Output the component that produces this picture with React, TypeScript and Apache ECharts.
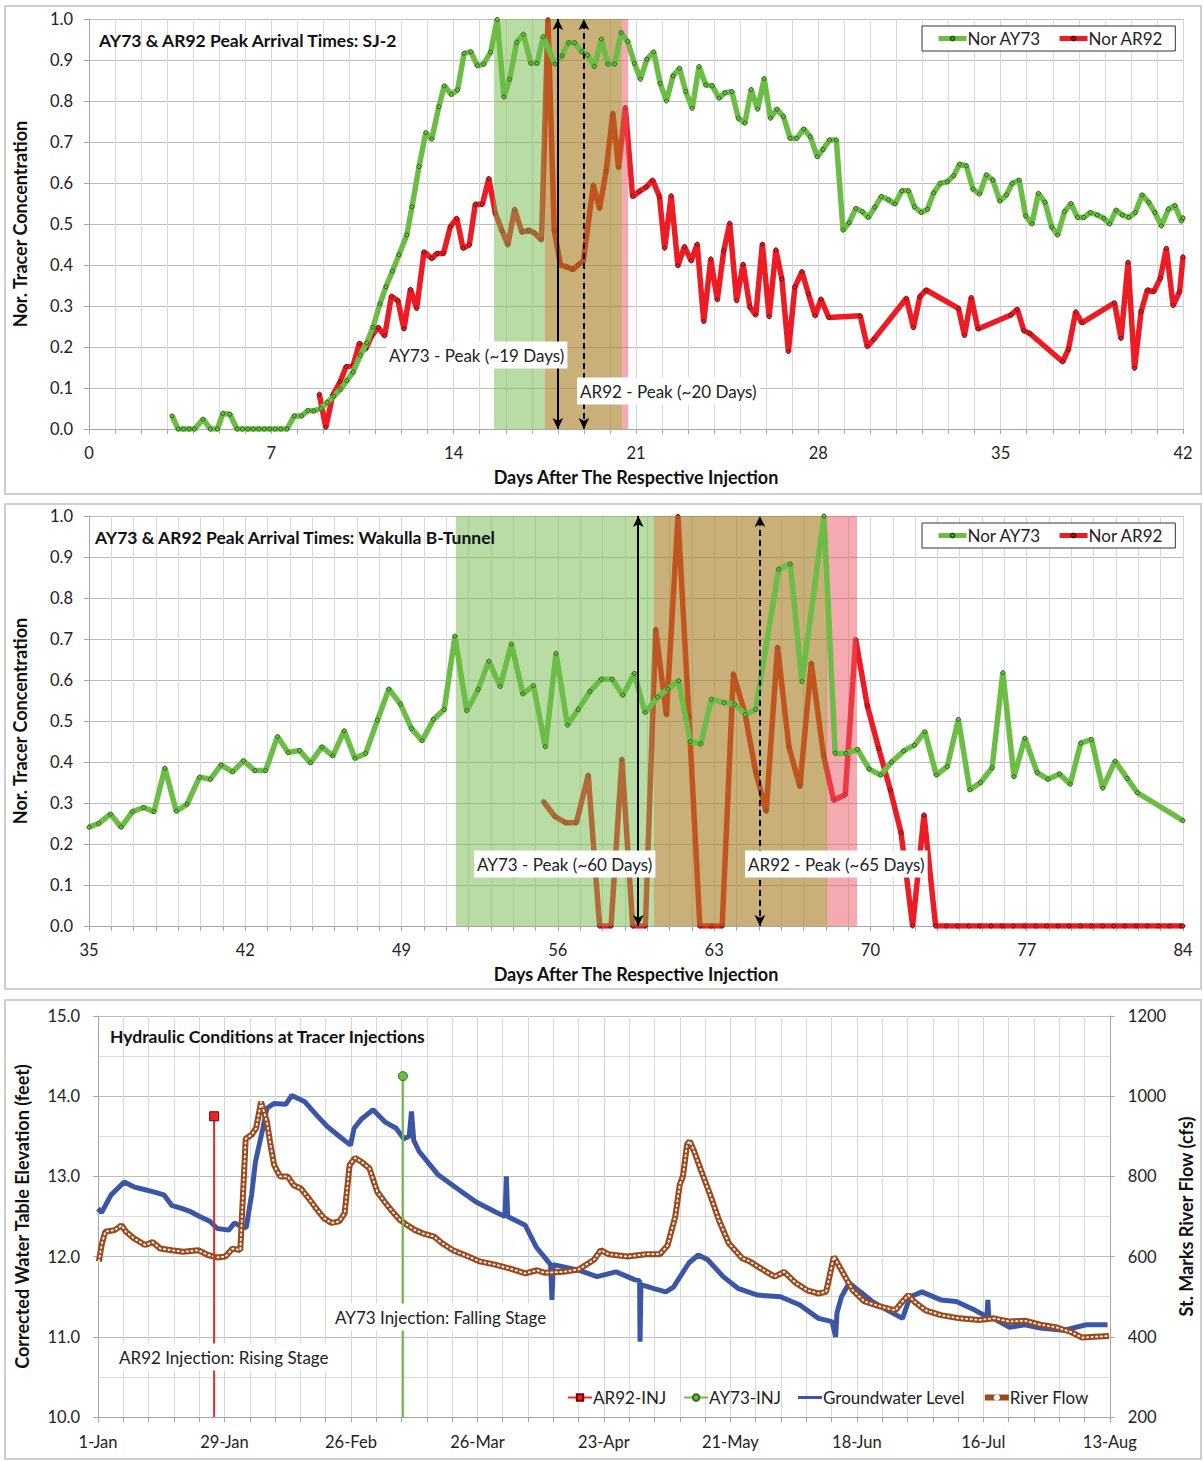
import React, { useEffect, useRef } from 'react';
import * as echarts from 'echarts';

const FONT = 'Lato, "Open Sans", "DejaVu Sans", sans-serif';
const GREEN = '#6cbd45';
const RED = '#ed1c24';
const BLUE = '#3a56a5';
const BROWN = '#9a4a1c';

// ---------- Panel 1 : SJ-2 ----------
const sj2Ay73: number[][] = [
  [3.19, 0.032], [3.42, 0], [3.63, 0], [3.84, 0], [4.05, 0], [4.38, 0.024], [4.66, 0], [4.93, 0], [5.14, 0.038], [5.41, 0.036],
  [5.68, 0], [5.89, 0], [6.1, 0], [6.31, 0], [6.52, 0], [6.73, 0], [6.94, 0], [7.15, 0], [7.36, 0], [7.6, 0],
  [7.88, 0.032], [8.16, 0.032], [8.4, 0.045], [8.63, 0.044], [8.9, 0.05], [9.15, 0.065], [9.4, 0.08], [9.66, 0.097], [9.9, 0.118], [10.14, 0.139],
  [10.42, 0.18], [10.66, 0.21], [10.9, 0.248], [11.17, 0.305], [11.4, 0.347], [11.65, 0.385], [11.9, 0.425], [12.2, 0.473], [12.4, 0.542], [12.67, 0.64],
  [12.93, 0.723], [13.16, 0.707], [13.43, 0.786], [13.64, 0.837], [13.91, 0.816], [14.15, 0.827], [14.4, 0.916], [14.66, 0.92], [14.91, 0.886], [15.15, 0.89],
  [15.42, 0.919], [15.67, 0.999], [15.93, 0.81], [16.15, 0.853], [16.42, 0.943], [16.68, 0.963], [16.96, 0.892], [17.2, 0.892], [17.44, 0.957], [17.89, 0.89],
  [18.16, 0.91], [18.4, 0.942], [18.64, 0.942], [18.92, 0.92], [19.14, 0.912], [19.4, 0.884], [19.67, 0.951], [19.92, 0.89], [20.18, 0.89], [20.43, 0.967],
  [20.68, 0.945], [20.94, 0.892], [21.17, 0.853], [21.42, 0.902], [21.68, 0.92], [21.93, 0.843], [22.17, 0.8], [22.42, 0.861], [22.67, 0.88], [22.91, 0.823],
  [23.16, 0.782], [23.42, 0.884], [23.68, 0.839], [23.93, 0.837], [24.19, 0.807], [24.41, 0.82], [24.68, 0.823], [24.93, 0.758], [25.18, 0.746], [25.42, 0.828],
  [25.67, 0.78], [25.92, 0.855], [26.16, 0.758], [26.41, 0.78], [26.66, 0.762], [26.92, 0.709], [27.17, 0.709], [27.44, 0.732], [27.69, 0.713], [27.96, 0.664],
  [28.18, 0.682], [28.43, 0.705], [28.69, 0.705], [28.95, 0.485], [29.18, 0.503], [29.44, 0.538], [29.69, 0.53], [29.92, 0.516], [30.17, 0.541], [30.42, 0.567],
  [30.69, 0.559], [30.94, 0.549], [31.21, 0.581], [31.46, 0.581], [31.69, 0.542], [31.95, 0.528], [32.19, 0.536], [32.43, 0.576], [32.68, 0.599], [32.95, 0.603],
  [33.2, 0.618], [33.42, 0.646], [33.68, 0.642], [33.94, 0.585], [34.19, 0.573], [34.45, 0.62], [34.7, 0.607], [34.97, 0.556], [35.22, 0.571], [35.44, 0.599],
  [35.71, 0.607], [35.96, 0.52], [36.2, 0.5], [36.45, 0.575], [36.7, 0.553], [36.96, 0.493], [37.19, 0.473], [37.45, 0.53], [37.7, 0.55], [37.95, 0.516],
  [38.19, 0.516], [38.44, 0.528], [38.71, 0.522], [38.96, 0.514], [39.18, 0.5], [39.43, 0.534], [39.67, 0.522], [39.92, 0.516], [40.17, 0.528], [40.43, 0.571],
  [40.68, 0.553], [40.92, 0.528], [41.17, 0.495], [41.44, 0.536], [41.69, 0.545], [41.94, 0.507], [42, 0.515],
];

const sj2Ar92: number[][] = [
  [8.84, 0.085], [9.09, 0.004], [9.36, 0.083], [9.64, 0.115], [9.87, 0.152], [10.14, 0.155], [10.38, 0.209], [10.62, 0.195], [10.87, 0.229], [11.1, 0.248],
  [11.35, 0.227], [11.61, 0.324], [11.86, 0.313], [12.09, 0.244], [12.34, 0.341], [12.58, 0.294], [12.86, 0.432], [13.16, 0.416], [13.36, 0.428], [13.61, 0.428],
  [13.87, 0.493], [14.12, 0.514], [14.36, 0.441], [14.6, 0.449], [14.83, 0.548], [15.1, 0.548], [15.35, 0.611], [15.6, 0.526], [15.86, 0.483], [16.08, 0.449],
  [16.34, 0.536], [16.62, 0.48], [16.89, 0.485], [17.1, 0.478], [17.37, 0.461], [17.62, 0.998], [17.86, 0.485], [18.1, 0.4], [18.35, 0.395], [18.57, 0.389],
  [18.78, 0.4], [18.98, 0.41], [19.36, 0.595], [19.6, 0.538], [19.85, 0.628], [20.11, 0.77], [20.33, 0.637], [20.59, 0.784], [20.87, 0.567], [21.14, 0.58],
  [21.39, 0.59], [21.64, 0.607], [21.9, 0.567], [22.1, 0.441], [22.35, 0.569], [22.61, 0.398], [22.86, 0.445], [23.12, 0.41], [23.35, 0.451], [23.6, 0.262],
  [23.87, 0.415], [24.12, 0.315], [24.37, 0.435], [24.6, 0.502], [24.86, 0.313], [25.11, 0.402], [25.37, 0.298], [25.6, 0.278], [25.85, 0.451], [26.11, 0.274],
  [26.37, 0.437], [26.6, 0.366], [26.85, 0.189], [27.1, 0.346], [27.37, 0.384], [27.62, 0.329], [27.88, 0.276], [28.1, 0.317], [28.4, 0.272], [29.61, 0.276],
  [29.88, 0.201], [30.13, 0.219], [31.38, 0.319], [31.65, 0.247], [31.9, 0.323], [32.14, 0.339], [33.38, 0.294], [33.61, 0.228], [33.87, 0.321], [34.13, 0.244],
  [35.39, 0.278], [35.64, 0.292], [35.89, 0.24], [36.12, 0.233], [37.38, 0.164], [37.6, 0.194], [37.88, 0.286], [38.12, 0.259], [39.37, 0.308], [39.62, 0.221],
  [39.89, 0.407], [40.14, 0.148], [40.39, 0.286], [40.63, 0.339], [40.88, 0.335], [41.13, 0.368], [41.36, 0.441], [41.62, 0.301], [41.87, 0.335], [42, 0.42],
];

const sj2Ay73Window = [15.55, 20.46];
const sj2Ar92Window = [17.5, 20.7];
const sj2Peaks = [18, 19];

// ---------- Panel 2 : Wakulla B-Tunnel ----------
const wakAy73: number[][] = [
  [35, 0.241], [35.43, 0.25], [35.96, 0.273], [36.44, 0.241], [36.95, 0.279], [37.45, 0.289], [37.91, 0.279], [38.4, 0.385], [38.91, 0.28], [39.39, 0.297],
  [39.95, 0.363], [40.44, 0.358], [40.92, 0.393], [41.43, 0.376], [41.92, 0.403], [42.43, 0.379], [42.91, 0.379], [43.44, 0.462], [43.92, 0.423], [44.43, 0.428],
  [44.92, 0.398], [45.43, 0.437], [45.92, 0.415], [46.43, 0.476], [46.91, 0.409], [47.39, 0.421], [47.92, 0.502], [48.43, 0.578], [48.95, 0.541], [49.44, 0.482],
  [49.92, 0.452], [50.43, 0.504], [50.91, 0.528], [51.39, 0.707], [51.92, 0.525], [52.43, 0.577], [52.91, 0.646], [53.42, 0.584], [53.92, 0.688], [54.43, 0.566],
  [54.91, 0.586], [55.44, 0.437], [55.92, 0.665], [56.43, 0.49], [56.91, 0.528], [57.44, 0.572], [57.95, 0.602], [58.43, 0.602], [58.91, 0.563], [59.42, 0.616],
  [59.91, 0.521], [60.47, 0.558], [60.93, 0.578], [61.41, 0.598], [61.93, 0.45], [62.4, 0.444], [62.88, 0.553], [63.44, 0.545], [63.91, 0.541], [64.4, 0.516],
  [64.86, 0.528], [65.89, 0.87], [66.41, 0.883], [66.93, 0.596], [67.92, 1.0], [68.42, 0.421], [68.91, 0.421], [69.42, 0.431], [69.94, 0.383], [70.46, 0.368],
  [70.95, 0.4], [71.49, 0.427], [71.97, 0.441], [72.44, 0.474], [72.95, 0.368], [73.44, 0.389], [73.94, 0.504], [74.45, 0.332], [74.93, 0.35], [75.45, 0.386],
  [75.93, 0.618], [76.43, 0.364], [76.92, 0.458], [77.47, 0.374], [77.95, 0.358], [78.47, 0.371], [78.95, 0.346], [79.42, 0.446], [79.9, 0.455], [80.4, 0.336],
  [80.96, 0.402], [81.5, 0.36], [81.96, 0.325], [84, 0.257],
];

const wakAr92: number[][] = [
  [55.36, 0.303], [55.87, 0.267], [56.35, 0.252], [56.83, 0.252], [57.36, 0.368], [57.87, 0], [58.38, 0], [58.87, 0.407], [59.35, 0], [59.92, 0],
  [60.38, 0.724], [60.86, 0.515], [61.38, 0.999], [61.87, 0.511], [62.36, 0], [62.88, 0], [63.36, 0], [63.86, 0.615], [64.38, 0.519], [64.86, 0.376],
  [65.33, 0.28], [65.84, 0.68], [66.35, 0.437], [66.84, 0.34], [67.35, 0.641], [67.9, 0.417], [68.35, 0.307], [68.87, 0.32], [69.34, 0.699], [69.86, 0.537],
  [70.37, 0.433], [70.89, 0.332], [71.37, 0.228], [71.89, 0], [72.4, 0.271], [72.92, 0], [73.4, 0], [73.9, 0], [74.4, 0], [74.9, 0],
  [75.4, 0], [75.9, 0], [76.4, 0], [76.9, 0], [77.4, 0], [77.9, 0], [78.4, 0], [78.9, 0], [79.4, 0], [79.9, 0],
  [80.4, 0], [80.9, 0], [81.4, 0], [81.9, 0], [82.4, 0], [82.9, 0], [83.4, 0], [83.9, 0], [84, 0],
];

const wakAy73Window = [51.43, 60.3];
const wakAr92Window = [60.3, 69.4];
const wakAy73WindowEnd = 68.05;
const wakPeaks = [59.6, 65.05];

// ---------- Panel 3 : Hydraulic conditions (day 0 = 1-Jan) ----------
const dateLabels = ['1-Jan', '29-Jan', '26-Feb', '26-Mar', '23-Apr', '21-May', '18-Jun', '16-Jul', '13-Aug'];

const groundwater: number[][] = [
  [0, 12.6], [0.8, 12.55], [2.9, 12.77], [5.8, 12.93], [7.9, 12.87], [10, 12.84], [12.1, 12.81], [14.6, 12.77], [16.3, 12.64], [18.5, 12.6],
  [20.5, 12.56], [22.5, 12.5], [24.75, 12.44], [26.4, 12.35], [28.95, 12.33], [30.2, 12.42], [31.5, 12.38], [32.8, 12.36], [34, 12.77], [34.85, 13.18],
  [36.5, 13.6], [37.4, 13.85], [39, 13.91], [41.6, 13.9], [42.9, 14.01], [45.8, 13.93], [48.3, 13.77], [50.8, 13.62], [53.4, 13.5], [55.9, 13.39],
  [56.7, 13.6], [58.4, 13.72], [60.9, 13.83], [63.5, 13.68], [66, 13.6], [67.7, 13.47], [68.9, 13.5], [69.4, 13.81], [69.9, 13.45], [71.1, 13.31],
  [75.3, 13.02], [79.5, 12.85], [83.7, 12.68], [87.9, 12.56], [90.1, 12.5], [90.4, 13.0], [90.7, 12.5], [94.6, 12.39], [97, 12.12], [100.2, 11.9],
  [100.5, 11.46], [100.8, 11.9], [106.4, 11.83], [110.5, 11.75], [114.7, 11.81], [118.9, 11.71], [119.9, 11.7], [120, 10.94], [120.2, 11.65], [123.1, 11.6],
  [125.7, 11.56], [127.4, 11.62], [130.8, 11.92], [132.9, 12.02], [135, 11.96], [138.4, 11.75], [141.8, 11.6], [146, 11.52], [151.1, 11.5], [155.3, 11.4],
  [159.5, 11.23], [162.5, 11.19], [163.3, 11.0], [163.6, 11.3], [164.6, 11.5], [166.3, 11.67], [168.8, 11.56], [171.4, 11.44], [174.8, 11.33], [178.1, 11.23],
  [179.8, 11.5], [182.4, 11.56], [186.6, 11.46], [190, 11.44], [194.2, 11.33], [196.8, 11.25], [197, 11.46], [197.2, 11.25], [198.5, 11.22], [201.8, 11.12],
  [205.2, 11.15], [208.6, 11.11], [213.7, 11.08], [218.8, 11.15], [223.5, 11.15],
];

const riverFlow: number[][] = [
  [0.2, 588], [0.8, 629], [1.6, 662], [3.7, 666], [5.2, 678], [6.2, 662], [7.9, 646], [10.4, 629], [12.1, 636], [13.8, 620],
  [16.3, 616], [18.9, 612], [22.2, 616], [24.3, 604], [26.4, 598], [28.2, 600], [29.8, 620], [31.5, 616], [32.7, 894], [34, 904],
  [35, 920], [36.1, 986], [37.4, 936], [38.2, 878], [39, 828], [40.3, 800], [42, 800], [43.3, 778], [44.9, 770], [46.6, 746],
  [48.3, 720], [50, 696], [51.7, 684], [53.4, 688], [54.6, 708], [55.7, 828], [56.9, 846], [58.4, 836], [60.1, 820], [61.8, 762],
  [63.5, 736], [65.2, 712], [66.8, 692], [68.5, 678], [70.2, 666], [71.9, 658], [74.4, 650], [76.1, 634], [78.6, 616], [82, 600],
  [84.5, 588], [87.9, 580], [91.3, 570], [94.6, 558], [97.2, 566], [98.8, 560], [103, 562], [106.4, 568], [109.8, 592], [111.3, 616],
  [113, 606], [117.2, 600], [121.4, 606], [124.4, 606], [126.1, 628], [127.8, 700], [128.8, 780], [129.5, 800], [130.4, 880], [131, 888],
  [132, 862], [133.5, 815], [135.5, 755], [137.5, 690], [139.6, 634], [142.6, 596], [144.3, 588], [146.8, 570], [149.8, 550], [151.9, 562],
  [154.5, 534], [157, 516], [159.5, 508], [161.2, 512], [162.9, 600], [164.6, 566], [167.1, 516], [169.7, 488], [173.1, 476], [176.5, 466],
  [178.1, 488], [179.4, 504], [180.7, 488], [183.2, 466], [186.6, 454], [190.8, 446], [195.1, 442], [198.4, 446], [201.8, 438], [205.2, 440],
  [208.6, 430], [212, 424], [215.4, 412], [217.9, 398], [220.5, 400], [223.8, 402],
];

const ar92Injection = [25.7, 10, 13.75];
const ay73Injection = [67.5, 10, 14.25];

// ---------- helpers ----------
const AXIS_GREY = '#a6a6a6';
const TICK_FS = 16.5;
const labelStyle = { fontSize: TICK_FS, color: '#222', fontFamily: FONT };
const nameStyle = { fontWeight: 'bold', fontSize: 18, color: '#111', fontFamily: FONT };

function daysAxis(gridIndex: number, min: number, max: number) {
  return {
    type: 'value', gridIndex, min, max, interval: 7,
    axisLine: { show: true, lineStyle: { color: AXIS_GREY } },
    axisTick: { show: true, length: 5, lineStyle: { color: AXIS_GREY } },
    minorTick: { show: true, splitNumber: 7, length: 5, lineStyle: { color: AXIS_GREY } },
    splitLine: { show: true, lineStyle: { color: '#d4d4d4' } },
    minorSplitLine: { show: true, lineStyle: { color: '#d9d9d9' } },
    axisLabel: { ...labelStyle, margin: 15 },
    name: 'Days After The Respective Injection', nameLocation: 'middle', nameGap: 39,
    nameTextStyle: nameStyle,
  };
}

function concAxis(gridIndex: number) {
  return {
    type: 'value', gridIndex, min: 0, max: 1, interval: 0.1,
    axisLine: { show: true, lineStyle: { color: AXIS_GREY } },
    axisTick: { show: true, length: 5, lineStyle: { color: AXIS_GREY } },
    splitLine: { show: true, lineStyle: { color: '#bdbdbd', width: 1.2 } },
    axisLabel: { ...labelStyle, margin: 16, formatter: (v: number) => v.toFixed(1) },
    name: 'Nor. Tracer Concentration', nameLocation: 'middle', nameGap: 60, nameRotate: 90,
    nameTextStyle: nameStyle,
  };
}

function concSeries(name: string, data: number[][], color: string, idx: number, z: number, border: string) {
  return {
    type: 'line', name, xAxisIndex: idx, yAxisIndex: idx, data, z,
    symbol: 'circle', symbolSize: 4, showSymbol: true,
    lineStyle: { color, width: 5.5 },
    itemStyle: { color, borderColor: border, borderWidth: 1 },
    emphasis: { disabled: true },
  };
}

function bandSeries(idx: number, a0: number, a1: number, a2: number, a3: number) {
  return {
    type: 'line', xAxisIndex: idx, yAxisIndex: idx, data: [], z: 3, silent: true,
    markArea: {
      silent: true, z: 3,
      data: [
        [{ xAxis: a0, itemStyle: { color: 'rgba(115,185,75,0.5)' } }, { xAxis: a1 }],
        [{ xAxis: a1, itemStyle: { color: 'rgba(163,123,30,0.6)' } }, { xAxis: a2 }],
        [{ xAxis: a2, itemStyle: { color: 'rgba(235,85,100,0.5)' } }, { xAxis: a3 }],
      ],
    },
  };
}

function arrowSeries(idx: number, peaks: number[]) {
  return {
    type: 'line', xAxisIndex: idx, yAxisIndex: idx, data: [], z: 6, silent: true,
    markLine: {
      silent: true, z: 6, symbol: ['arrow', 'arrow'], symbolSize: [8, 11],
      label: { show: false },
      lineStyle: { color: '#000', width: 2, type: 'solid' },
      data: [
        [{ coord: [peaks[0], 0], lineStyle: { type: 'solid' } }, { coord: [peaks[0], 1] }],
        [{ coord: [peaks[1], 0], lineStyle: { type: [6, 4] } }, { coord: [peaks[1], 1] }],
      ],
    },
  };
}

function boxText(text: string, x: number, y: number) {
  return {
    type: 'text', z: 100,
    style: {
      text, x, y, fill: '#222', fontSize: 17, fontFamily: FONT,
      backgroundColor: '#fff', padding: [5, 3, 5, 3], verticalAlign: 'middle', align: 'left',
    },
  };
}

function titleText(text: string, x: number, y: number) {
  return {
    type: 'text', z: 100,
    style: { text, x, y, fill: '#111', fontSize: 17.5, fontWeight: 'bold', fontFamily: FONT, verticalAlign: 'middle', align: 'left' },
  };
}

function panelRect(y: number, h: number) {
  return {
    type: 'rect', z: 0, silent: true,
    shape: { x: 5, y, width: 1196, height: h },
    style: { fill: 'none', stroke: '#cfcfcf', lineWidth: 2 },
  };
}

function concLegend(top: number) {
  return {
    data: ['Nor AY73', 'Nor AR92'], left: 922, top, orient: 'horizontal',
    padding: [4, 12, 4, 14], itemGap: 16, itemWidth: 28, itemHeight: 5,
    lineStyle: { width: 5 },
    borderColor: '#333', borderWidth: 1, backgroundColor: '#fff',
    textStyle: { fontSize: 17, color: '#222', fontFamily: FONT, padding: [0, 0, 0, -4] },
    selectedMode: false, z: 20,
  };
}

function buildOption() {
  const injStyle = (color: string) => ({ color, width: 2 });
  return {
    animation: false,
    backgroundColor: '#fff',
    textStyle: { fontFamily: FONT },
    grid: [
      { left: 89, right: 20, top: 19, height: 410 },
      { left: 89, right: 20, top: 516, height: 410 },
      { left: 98, right: 87, top: 1016, height: 401 },
    ],
    legend: [
      concLegend(26),
      concLegend(523),
      {
        data: [
          { name: 'AR92-INJ', lineStyle: { width: 2 } },
          { name: 'AY73-INJ', lineStyle: { width: 2 } },
          { name: 'Groundwater Level', icon: 'path://M0 0H24V3H0Z' },
          { name: 'River Flow', lineStyle: { width: 6 } },
        ],
        left: 562, top: 1384,
        itemGap: 17, itemWidth: 24, itemHeight: 8,
        textStyle: { fontSize: 17, color: '#222', fontFamily: FONT, padding: [0, 0, 0, -4] },
        selectedMode: false, z: 20,
      },
    ],
    xAxis: [
      daysAxis(0, 0, 42),
      daysAxis(1, 35, 84),
      {
        type: 'value', gridIndex: 2, min: 0, max: 224, interval: 28,
        axisLine: { show: true, lineStyle: { color: AXIS_GREY } },
        axisTick: { show: true, length: 5, lineStyle: { color: AXIS_GREY } },
        minorTick: { show: true, splitNumber: 5, length: 5, lineStyle: { color: AXIS_GREY } },
        splitLine: { show: true, lineStyle: { color: '#d4d4d4' } },
        minorSplitLine: { show: true, lineStyle: { color: '#d9d9d9' } },
        axisLabel: { ...labelStyle, margin: 16, formatter: (v: number) => dateLabels[Math.round(v / 28)] ?? '' },
      },
    ],
    yAxis: [
      concAxis(0),
      concAxis(1),
      {
        type: 'value', gridIndex: 2, min: 10, max: 15, interval: 1,
        axisLine: { show: true, lineStyle: { color: AXIS_GREY } },
        axisTick: { show: true, length: 5, lineStyle: { color: AXIS_GREY } },
        splitLine: { show: true, lineStyle: { color: '#bdbdbd', width: 1.2 } },
        minorTick: { show: false, splitNumber: 2 },
        minorSplitLine: { show: true, lineStyle: { color: '#d9d9d9' } },
        axisLabel: { ...labelStyle, margin: 18, formatter: (v: number) => v.toFixed(1) },
        name: 'Corrected Water Table Elevation (feet)', nameLocation: 'middle', nameGap: 67, nameRotate: 90,
        nameTextStyle: nameStyle,
      },
      {
        type: 'value', gridIndex: 2, min: 200, max: 1200, interval: 200, position: 'right',
        axisLine: { show: true, lineStyle: { color: AXIS_GREY } },
        axisTick: { show: true, length: 5, lineStyle: { color: AXIS_GREY } },
        splitLine: { show: false },
        axisLabel: { ...labelStyle, margin: 18, formatter: (v: number) => String(v) },
        name: 'St. Marks River Flow (cfs)', nameLocation: 'middle', nameGap: 63, nameRotate: 90,
        nameTextStyle: nameStyle,
      },
    ],
    series: [
      // panel 1
      concSeries('Nor AR92', sj2Ar92, RED, 0, 2, '#5a0d0d'),
      bandSeries(0, sj2Ay73Window[0], sj2Ar92Window[0], sj2Ay73Window[1], sj2Ar92Window[1]),
      concSeries('Nor AY73', sj2Ay73, GREEN, 0, 4, '#285c17'),
      arrowSeries(0, sj2Peaks),
      // panel 2
      concSeries('Nor AR92', wakAr92, RED, 1, 2, '#5a0d0d'),
      bandSeries(1, wakAy73Window[0], wakAy73Window[1], wakAy73WindowEnd, wakAr92Window[1]),
      concSeries('Nor AY73', wakAy73, GREEN, 1, 4, '#285c17'),
      arrowSeries(1, wakPeaks),
      // panel 3
      {
        type: 'line', name: 'AR92-INJ', xAxisIndex: 2, yAxisIndex: 2, z: 5,
        data: [{ value: [ar92Injection[0], ar92Injection[1]], symbol: 'none' }, [ar92Injection[0], ar92Injection[2]]],
        symbol: 'rect', symbolSize: 9, lineStyle: injStyle('#ee2a2a'),
        itemStyle: { color: '#e8262a', borderColor: '#7a0000', borderWidth: 1 },
      },
      {
        type: 'line', name: 'AY73-INJ', xAxisIndex: 2, yAxisIndex: 2, z: 5,
        data: [{ value: [ay73Injection[0], ay73Injection[1]], symbol: 'none' }, [ay73Injection[0], ay73Injection[2]]],
        symbol: 'circle', symbolSize: 9, lineStyle: injStyle('#6cbd45'),
        itemStyle: { color: '#6cbd45', borderColor: '#2f6b1a', borderWidth: 1 },
      },
      {
        type: 'line', name: 'Groundwater Level', xAxisIndex: 2, yAxisIndex: 2, z: 2,
        data: groundwater, symbol: 'none', lineStyle: { color: BLUE, width: 5 }, itemStyle: { color: BLUE },
      },
      {
        type: 'line', name: 'River Flow', xAxisIndex: 2, yAxisIndex: 3, z: 3,
        data: riverFlow, symbol: 'circle', symbolSize: 3, showSymbol: false,
        lineStyle: { color: BROWN, width: 6 }, itemStyle: { color: '#fff', borderColor: BROWN, borderWidth: 0 },
      },
      {
        type: 'line', xAxisIndex: 2, yAxisIndex: 3, z: 4, silent: true,
        data: riverFlow, symbol: 'none',
        lineStyle: { color: '#ffffff', width: 1.8, type: [1.2, 3.4], cap: 'round' },
      },
    ],
    graphic: [
      panelRect(6, 488),
      panelRect(504, 485),
      panelRect(1000, 459),
      titleText('AY73 & AR92 Peak Arrival Times: SJ-2', 99, 40),
      titleText('AY73 & AR92 Peak Arrival Times: Wakulla B-Tunnel', 95, 537),
      titleText('Hydraulic Conditions at Tracer Injections', 110, 1036),
      boxText('AY73 - Peak (~19 Days)', 386, 355),
      boxText('AR92 - Peak (~20 Days)', 577, 391),
      boxText('AY73 - Peak (~60 Days)', 474, 864),
      boxText('AR92 - Peak (~65 Days)', 745, 864),
      boxText('AR92 Injection: Rising Stage', 116, 1357),
      boxText('AY73 Injection: Falling Stage', 332, 1317),
    ],
  };
}

export default function App() {
  const ref = useRef<HTMLDivElement>(null);
  useEffect(() => {
    document.body.style.margin = '0';
    const chart = echarts.init(ref.current as HTMLDivElement, null, { renderer: 'svg' });
    chart.setOption(buildOption() as any);
    return () => chart.dispose();
  }, []);
  return <div ref={ref} style={{ width: 1203, height: 1462, background: '#fff' }} />;
}
